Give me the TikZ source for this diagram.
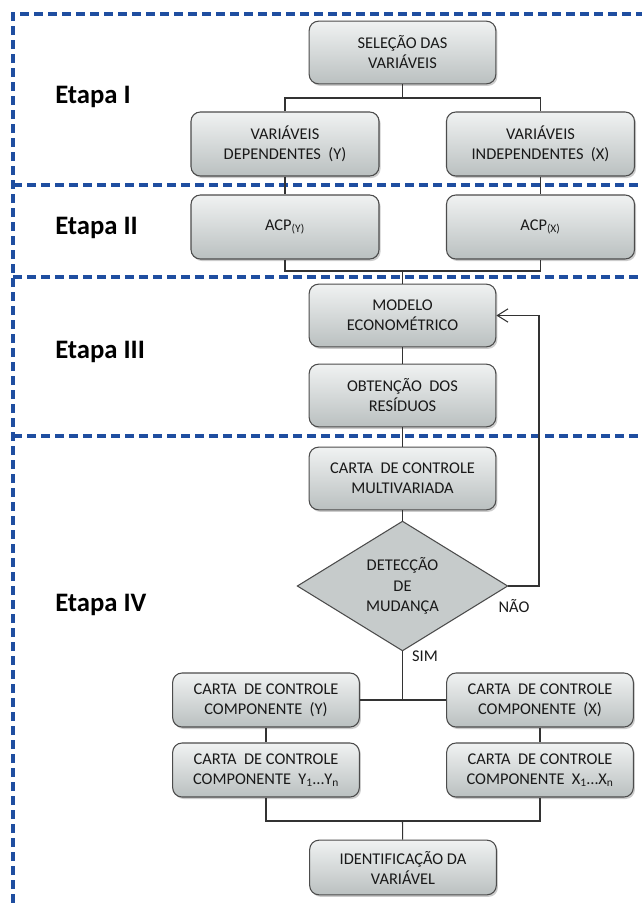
\documentclass[tikz,border=0pt]{standalone}
\usepackage{fontspec}
\setmainfont{Carlito}
\usetikzlibrary{shapes.geometric,shadows,arrows.meta}

\definecolor{etapablue}{RGB}{31,78,160}
\definecolor{boxtop}{RGB}{240,242,242}
\definecolor{boxbot}{RGB}{186,192,192}
\definecolor{diafill}{RGB}{198,203,203}

\tikzset{etapaline/.style={etapablue, line width=2.4pt, dash pattern=on 6.75pt off 3.75pt}}
\tikzset{etapalabel/.style={anchor=west, inner sep=0pt, font=\fontsize{20}{22}\selectfont\bfseries}}
\tikzset{flowbox/.style={draw=black!70, line width=0.8pt, rounded corners=7pt,
    top color=boxtop, bottom color=boxbot, text=black!90, align=center,
    font=\fontsize{12.3}{15}\selectfont, inner sep=2pt,
    drop shadow={shadow xshift=1.2pt, shadow yshift=-1.5pt, opacity=0.4}}}
\tikzset{mainbox/.style={flowbox, minimum width=140pt, minimum height=47pt}}
\tikzset{sidebox/.style={flowbox, minimum width=141pt, minimum height=48pt}}
\tikzset{compbox/.style={flowbox, minimum width=140pt, minimum height=40.5pt}}
\tikzset{link/.style={draw=black!80, line width=0.8pt}}
\tikzset{answer/.style={font=\fontsize{12.3}{14}\selectfont, text=black!90}}

\begin{document}
\begin{tikzpicture}[x=0.75pt, y=-0.75pt]

\useasboundingbox (0,0) rectangle (642,903);

% dashed frame of the stages
\draw[etapaline] (13,903) -- (13,14) -- (646,14);
\draw[etapaline] (13,185) -- (646,185);
\draw[etapaline] (13,277) -- (646,277);
\draw[etapaline] (13,436) -- (646,436);

% stage names
\node[etapalabel] (e1) at (55,97) {Etapa I};
\node[etapalabel] (e2) at (55,228) {Etapa II};
\node[etapalabel] (e3) at (55,352) {Etapa III};
\node[etapalabel] (e4) at (55,605) {Etapa IV};

% boxes
\node[mainbox] (sel) at (402.5,52.5) {SELEÇÃO DAS\\VARIÁVEIS};
\node[sidebox] (vdep) at (285,144) {VARIÁVEIS\\DEPENDENTES\ \ (Y)};
\node[sidebox] (vind) at (540.5,144) {VARIÁVEIS\\INDEPENDENTES\ \ (X)};
\node[sidebox] (acpy) at (285,227) {ACP\textsubscript{(Y)}};
\node[sidebox] (acpx) at (540.5,227) {ACP\textsubscript{(X)}};
\node[mainbox] (mod) at (402.5,315.5) {MODELO\\ECONOMÉTRICO};
\node[mainbox] (obt) at (402.5,395.5) {OBTENÇÃO\ \ DOS\\RESÍDUOS};
\node[mainbox] (multi) at (402.5,478.5) {CARTA\ \ DE CONTROLE\\MULTIVARIADA};
\node[diamond, draw=black!70, line width=0.8pt, fill=diafill, text=black!90,
      align=center, inner sep=0pt, minimum width=158pt, minimum height=91.5pt,
      font=\fontsize{12.3}{15.5}\selectfont] (det) at (402.5,586) {DETECÇÃO\\DE\\MUDANÇA};
\node[compbox] (ccy) at (266,700) {CARTA\ \ DE CONTROLE\\COMPONENTE\ \ (Y)};
\node[compbox] (ccx) at (540,700) {CARTA\ \ DE CONTROLE\\COMPONENTE\ \ (X)};
\node[compbox] (ccyn) at (266,770) {CARTA\ \ DE CONTROLE\\COMPONENTE\ \ Y\textsubscript{1}…Y\textsubscript{n}};
\node[compbox] (ccxn) at (540,770) {CARTA\ \ DE CONTROLE\\COMPONENTE\ \ X\textsubscript{1}…X\textsubscript{n}};
\node[compbox, minimum height=41pt] (ident) at (403,867.5) {IDENTIFICAÇÃO DA\\VARIÁVEL};

% answers
\node[answer] (nao) at (514,606) {NÃO};
\node[answer] (sim) at (425,656) {SIM};

% junctions
\coordinate (j1) at (402.5,98);
\coordinate (j2) at (402.5,271);
\coordinate (j3) at (402.5,821);
\coordinate (back) at (539,586);

% connectors
\draw[link] (sel) -- (j1);
\draw[link] (vdep.north) |- (j1) -| (vind.north);
\draw[link] (vdep) -- (acpy);
\draw[link] (vind) -- (acpx);
\draw[link] (acpy.south) |- (j2) -| (acpx.south);
\draw[link] (j2) -- (mod);
\draw[link] (mod) -- (obt);
\draw[link] (obt) -- (multi);
\draw[link] (multi) -- (det);
\draw[link, -{Straight Barb[length=8pt, width=10pt]}] (det.east) -- (back) |- (mod.east);
\draw[link] (det.south) -- (det.south |- ccy.east);
\draw[link] (ccy) -- (ccx);
\draw[link] (ccy) -- (ccyn);
\draw[link] (ccx) -- (ccxn);
\draw[link] (ccyn.south) |- (j3) -| (ccxn.south);
\draw[link] (j3) -- (ident);

\end{tikzpicture}
\end{document}
